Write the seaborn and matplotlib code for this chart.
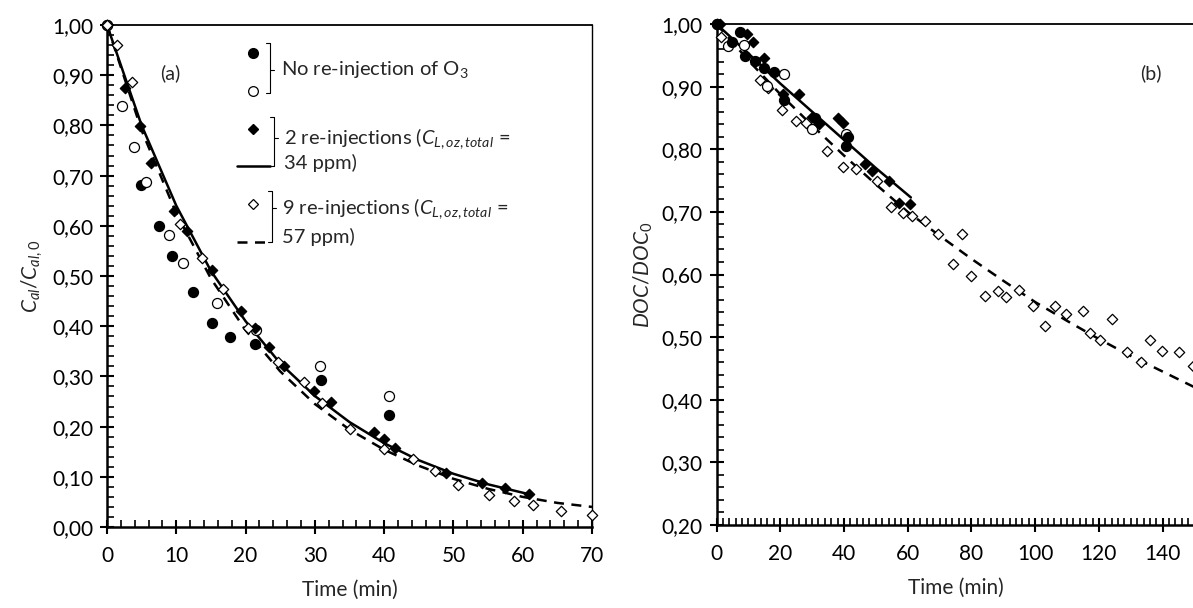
import numpy as np
import pandas as pd
import seaborn as sns
import matplotlib.pyplot as plt
from matplotlib.ticker import MultipleLocator, FuncFormatter

# ---- panel (a): C_al / C_al,0 ----
a_t_noinj1 = [0, 4.9, 7.5, 9.4, 12.4, 15.1, 17.7, 21.4, 30.9, 40.7]
a_v_noinj1 = [1.0, 0.682, 0.600, 0.540, 0.468, 0.407, 0.378, 0.365, 0.292, 0.223]
a_t_noinj2 = [0, 2.1, 3.9, 5.7, 8.9, 10.9, 15.9, 21.5, 30.7, 40.7]
a_v_noinj2 = [1.0, 0.839, 0.757, 0.687, 0.581, 0.526, 0.446, 0.393, 0.320, 0.260]
a_t_inj2 = [0, 2.6, 4.7, 6.4, 9.6, 11.5, 15.1, 19.4, 21.4, 23.4, 25.6, 29.9, 32.3,
            38.5, 40.0, 41.5, 48.9, 54.1, 57.4, 60.9]
a_v_inj2 = [1.0, 0.875, 0.799, 0.725, 0.629, 0.589, 0.511, 0.430, 0.396, 0.358, 0.321,
            0.271, 0.249, 0.189, 0.176, 0.158, 0.107, 0.087, 0.077, 0.065]
a_t_inj9 = [0, 1.4, 3.6, 10.6, 13.75, 16.7, 20.3, 24.7, 28.4, 31.1, 35.0, 40.0, 44.1,
            47.3, 50.6, 55.1, 58.8, 61.5, 65.5, 70.0]
a_v_inj9 = [1.0, 0.961, 0.887, 0.603, 0.535, 0.475, 0.397, 0.329, 0.288, 0.248, 0.195,
            0.156, 0.135, 0.111, 0.083, 0.063, 0.051, 0.043, 0.031, 0.023]
a_fit2_t = [0, 5, 10, 15, 20, 25, 30, 35, 40, 45, 50, 55, 61]
a_fit2_v = [1.0, 0.80, 0.64, 0.51, 0.41, 0.326, 0.261, 0.209, 0.167, 0.133, 0.106, 0.085, 0.065]
a_fit9_t = [0, 5, 10, 15, 20, 25, 30, 35, 40, 45, 50, 55, 60, 65, 70]
a_fit9_v = [1.0, 0.79, 0.625, 0.495, 0.392, 0.31, 0.245, 0.194, 0.154, 0.122, 0.096,
            0.076, 0.060, 0.048, 0.040]

# ---- panel (b): DOC / DOC0 ----
b_t_noinj1 = [0, 4.9, 7.3, 9.0, 12.0, 14.9, 18.0, 21.3, 31.0, 40.7, 41.4]
b_v_noinj1 = [1.0, 0.971, 0.987, 0.949, 0.941, 0.929, 0.923, 0.879, 0.850, 0.805, 0.820]
b_t_noinj2 = [0, 3.5, 8.6, 15.8, 21.3, 30.1, 40.5]
b_v_noinj2 = [1.0, 0.965, 0.967, 0.901, 0.920, 0.832, 0.825]
b_t_inj2 = [1.0, 9.5, 11.4, 14.9, 20.8, 25.8, 30.0, 32.3, 38.2, 39.7, 46.7, 48.8,
            54.0, 57.2, 60.8]
b_v_inj2 = [1.0, 0.984, 0.971, 0.946, 0.889, 0.888, 0.852, 0.841, 0.850, 0.842, 0.777,
            0.765, 0.750, 0.714, 0.713]
b_t_inj9 = [0, 1.5, 13.5, 16.3, 20.4, 24.8, 28.1, 34.8, 39.8, 43.9, 50.3, 54.8, 58.5,
            61.2, 65.3, 69.6, 74.3, 76.9, 79.9, 84.3, 88.3, 90.7, 94.9, 99.4, 103.1,
            106.2, 109.7, 114.9, 117.2, 120.2, 124.1, 128.8, 133.2, 136.0, 139.7,
            145.1, 149.4]
b_v_inj9 = [1.0, 0.980, 0.910, 0.898, 0.862, 0.845, 0.842, 0.797, 0.771, 0.769, 0.750,
            0.707, 0.699, 0.693, 0.686, 0.664, 0.617, 0.664, 0.597, 0.566, 0.574,
            0.564, 0.576, 0.549, 0.517, 0.549, 0.537, 0.541, 0.506, 0.496, 0.529,
            0.476, 0.461, 0.496, 0.478, 0.477, 0.454]
b_fit2_t = [0, 10, 20, 30, 40, 50, 61]
b_fit2_v = [1.0, 0.953, 0.905, 0.860, 0.815, 0.770, 0.723]
b_fit9_t = [0, 10, 20, 30, 40, 50, 60, 70, 80, 90, 100, 110, 120, 130, 140, 150, 160]
b_fit9_v = [1.0, 0.942, 0.888, 0.838, 0.790, 0.744, 0.700, 0.662, 0.625, 0.590, 0.556,
            0.526, 0.497, 0.470, 0.445, 0.420, 0.398]

sns.set_style("white")
plt.rcParams["font.family"] = ["Lato", "DejaVu Sans"]
plt.rcParams["mathtext.fontset"] = "custom"
plt.rcParams["mathtext.rm"] = "Lato"
plt.rcParams["mathtext.it"] = "Lato:italic"

FS = 15
comma = FuncFormatter(lambda v, p: f"{v:.2f}".replace(".", ","))

fig = plt.figure(figsize=(11.93, 6.08), dpi=100)
ax_a = fig.add_axes([107 / 1193, 1 - 527 / 608, 485 / 1193, 502 / 608])
ax_b = fig.add_axes([716.5 / 1193, 1 - 525 / 608, 478 / 1193, 501 / 608])


def draw(ax, fit2_t, fit2_v, fit9_t, fit9_v, series):
    sns.lineplot(x=fit2_t, y=fit2_v, ax=ax, color="black", lw=1.8, sort=False)
    sns.lineplot(x=fit9_t, y=fit9_v, ax=ax, color="black", lw=1.8, sort=False,
                 linestyle=(0, (4, 3)))
    for t, v, mk, fc, s in series:
        sns.scatterplot(x=t, y=v, ax=ax, marker=mk, s=s, facecolor=fc,
                        edgecolor="black", linewidth=0.9, clip_on=False, zorder=3)


draw(ax_a, a_fit2_t, a_fit2_v, a_fit9_t, a_fit9_v, [
    (a_t_noinj1, a_v_noinj1, "o", "black", 52),
    (a_t_noinj2, a_v_noinj2, "o", "white", 52),
    (a_t_inj2, a_v_inj2, "D", "black", 28),
    (a_t_inj9, a_v_inj9, "D", "white", 28),
])
draw(ax_b, b_fit2_t, b_fit2_v, b_fit9_t, b_fit9_v, [
    (b_t_inj9, b_v_inj9, "D", "white", 28),
    (b_t_noinj2, b_v_noinj2, "o", "white", 52),
    (b_t_noinj1, b_v_noinj1, "o", "black", 52),
    (b_t_inj2, b_v_inj2, "D", "black", 28),
])

ax_a.set_xlim(0, 70)
ax_a.set_ylim(0, 1)
ax_a.xaxis.set_major_locator(MultipleLocator(10))
ax_a.xaxis.set_minor_locator(MultipleLocator(2))
ax_b.set_xlim(0, 150)
ax_b.set_ylim(0.2, 1.0)
ax_b.xaxis.set_major_locator(MultipleLocator(20))
ax_b.xaxis.set_minor_locator(MultipleLocator(2))

for ax in (ax_a, ax_b):
    ax.yaxis.set_major_locator(MultipleLocator(0.1))
    ax.yaxis.set_minor_locator(MultipleLocator(0.02))
    ax.yaxis.set_major_formatter(comma)
    ax.tick_params(which="both", bottom=True, left=True, top=False, right=False)
    ax.tick_params(which="major", direction="inout", length=10, width=1.5,
                   labelsize=FS, pad=5, colors="black")
    ax.tick_params(axis="x", which="major", pad=9)
    ax.tick_params(which="minor", direction="in", length=5, width=1.2, colors="black")
    for side in ("left", "bottom"):
        ax.spines[side].set_linewidth(1.8)
        ax.spines[side].set_color("black")
    ax.spines["top"].set_linewidth(1.3)
    ax.spines["top"].set_color("black")
    ax.set_xlabel("Time (min)", fontsize=FS, labelpad=10)

ax_a.spines["right"].set_linewidth(1.0)
ax_a.spines["right"].set_color("black")
ax_b.spines["right"].set_visible(False)

ax_a.set_ylabel(r"$C_{al}/C_{al,0}$", fontsize=FS, labelpad=5)
ax_b.set_ylabel(r"$DOC/DOC_{0}$", fontsize=FS, labelpad=5)

ax_a.text(0.13, 0.904, "(a)", transform=ax_a.transAxes, fontsize=14,
          ha="center", va="center")
ax_b.text(0.908, 0.902, "(b)", transform=ax_b.transAxes, fontsize=14,
          ha="center", va="center")

# hand-made legend with brackets, in axes fraction
tr = ax_a.transAxes
LFS = 14.5


def bracket(x, y_top, y_bot, y_mid, arm=0.009):
    ax_a.plot([x - arm, x, x, x - arm], [y_top, y_top, y_bot, y_bot], transform=tr,
              color="black", lw=0.8, clip_on=False)
    ax_a.plot([x, x + arm], [y_mid, y_mid], transform=tr, color="black", lw=0.8)


mx = 0.3017
ax_a.plot([mx], [0.9448], "o", ms=7.0, mfc="black", mec="black", transform=tr)
ax_a.plot([mx], [0.8691], "o", ms=7.0, mfc="white", mec="black", mew=0.9, transform=tr)
bracket(0.3361, 0.9641, 0.8645, 0.9104)
ax_a.text(0.3581, 0.9104, "No re-injection of O$_3$", transform=tr, fontsize=LFS,
          va="center")

ax_a.plot([mx], [0.7922], "D", ms=5.2, mfc="black", mec="black", transform=tr)
ax_a.plot([0.2674, 0.3361], [0.7197, 0.7197], color="black", lw=1.8, transform=tr)
bracket(0.3443, 0.8173, 0.7197, 0.7749)
ax_a.text(0.3656, 0.7743, r"2 re-injections ($C_{L,oz,total}$ =", transform=tr,
          fontsize=LFS, va="center")
ax_a.text(0.3656, 0.7245, "34 ppm)", transform=tr, fontsize=LFS, va="center")

ax_a.plot([mx], [0.6434], "D", ms=5.2, mfc="white", mec="black", mew=0.9, transform=tr)
ax_a.plot([0.2674, 0.3361], [0.5671, 0.5671], color="black", lw=1.8,
          linestyle=(0, (4, 3)), transform=tr)
bracket(0.3402, 0.6693, 0.5677, 0.6355)
ax_a.text(0.3614, 0.6349, r"9 re-injections ($C_{L,oz,total}$ =", transform=tr,
          fontsize=LFS, va="center")
ax_a.text(0.3614, 0.5783, "57 ppm)", transform=tr, fontsize=LFS, va="center")

fig.savefig("out.png", dpi=100)
